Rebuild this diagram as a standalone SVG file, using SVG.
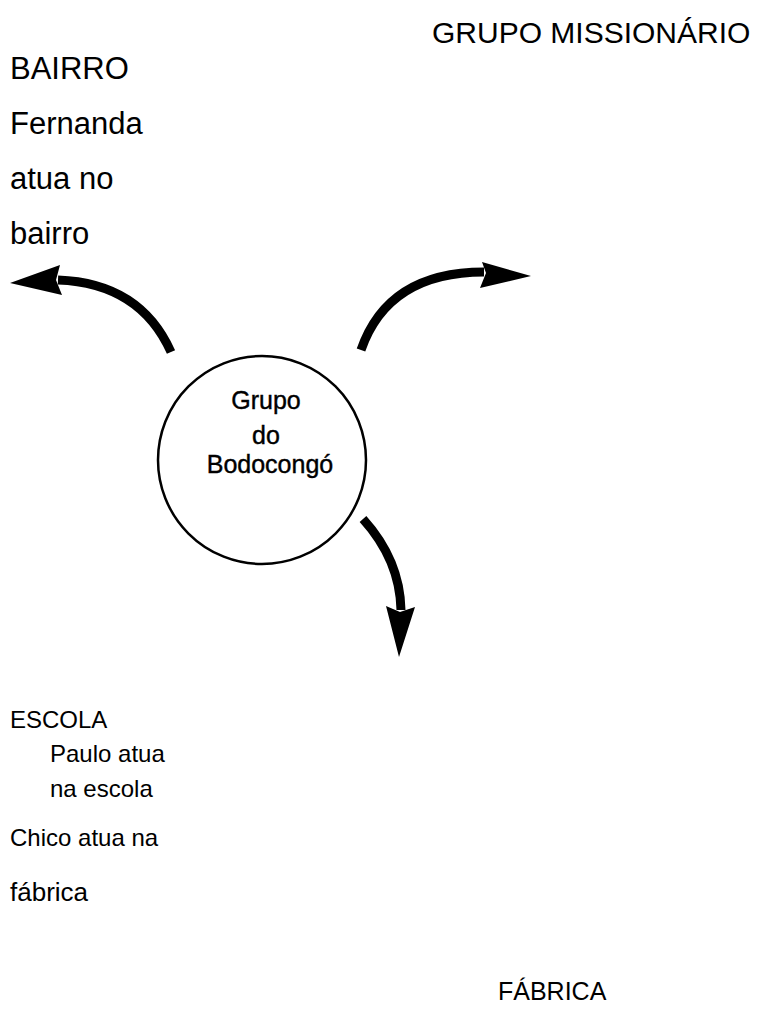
<svg xmlns="http://www.w3.org/2000/svg" width="769" height="1024" viewBox="0 0 769 1024">
<style>
.lbl{font-family:"Liberation Sans",Arial,sans-serif;fill:#000}
.big{font-size:31px}
.sm{font-size:24px}
.ctr{font-family:"Liberation Sans",Arial,sans-serif;font-size:25px;fill:#000;stroke:#000;stroke-width:0.4;text-anchor:middle}
.arc{fill:none;stroke:#000;stroke-width:9}
</style>
<rect width="769" height="1024" fill="#fff"/>
<g id="labels">
<text class="lbl" x="432" y="43" font-size="30">GRUPO MISSIONÁRIO</text>
<text class="lbl big" x="10" y="79">BAIRRO</text>
<text class="lbl big" x="10" y="134">Fernanda</text>
<text class="lbl big" x="10" y="189">atua no</text>
<text class="lbl big" x="10" y="244">bairro</text>
<text class="lbl sm" x="10" y="728">ESCOLA</text>
<text class="lbl sm" x="50" y="762">Paulo atua</text>
<text class="lbl sm" x="50" y="797">na escola</text>
<text class="lbl sm" x="10" y="846">Chico atua na</text>
<text class="lbl" x="10" y="901" font-size="26">fábrica</text>
<text class="lbl" x="498" y="1000" font-size="25">FÁBRICA</text>
</g>
<g id="grupo-bodocongo">
<circle cx="262" cy="460" r="104" fill="#fff" stroke="#000" stroke-width="2.5"/>
<text class="ctr" x="266" y="409">Grupo</text>
<text class="ctr" x="266" y="444">do</text>
<text class="ctr" x="270" y="473">Bodocongó</text>
</g>
<g id="connectors">
<path class="arc" d="M171,352 Q140,283 58,280"/>
<polygon points="10,283 60,265 56,280 62,295"/>
<path class="arc" d="M361,350 Q388,272 484,272"/>
<polygon points="531,276 482,262 486,273 480,288"/>
<path class="arc" d="M363,519 Q400,560 401,610"/>
<polygon points="399,657 386,606 400,612 415,607"/>
</g>
</svg>
